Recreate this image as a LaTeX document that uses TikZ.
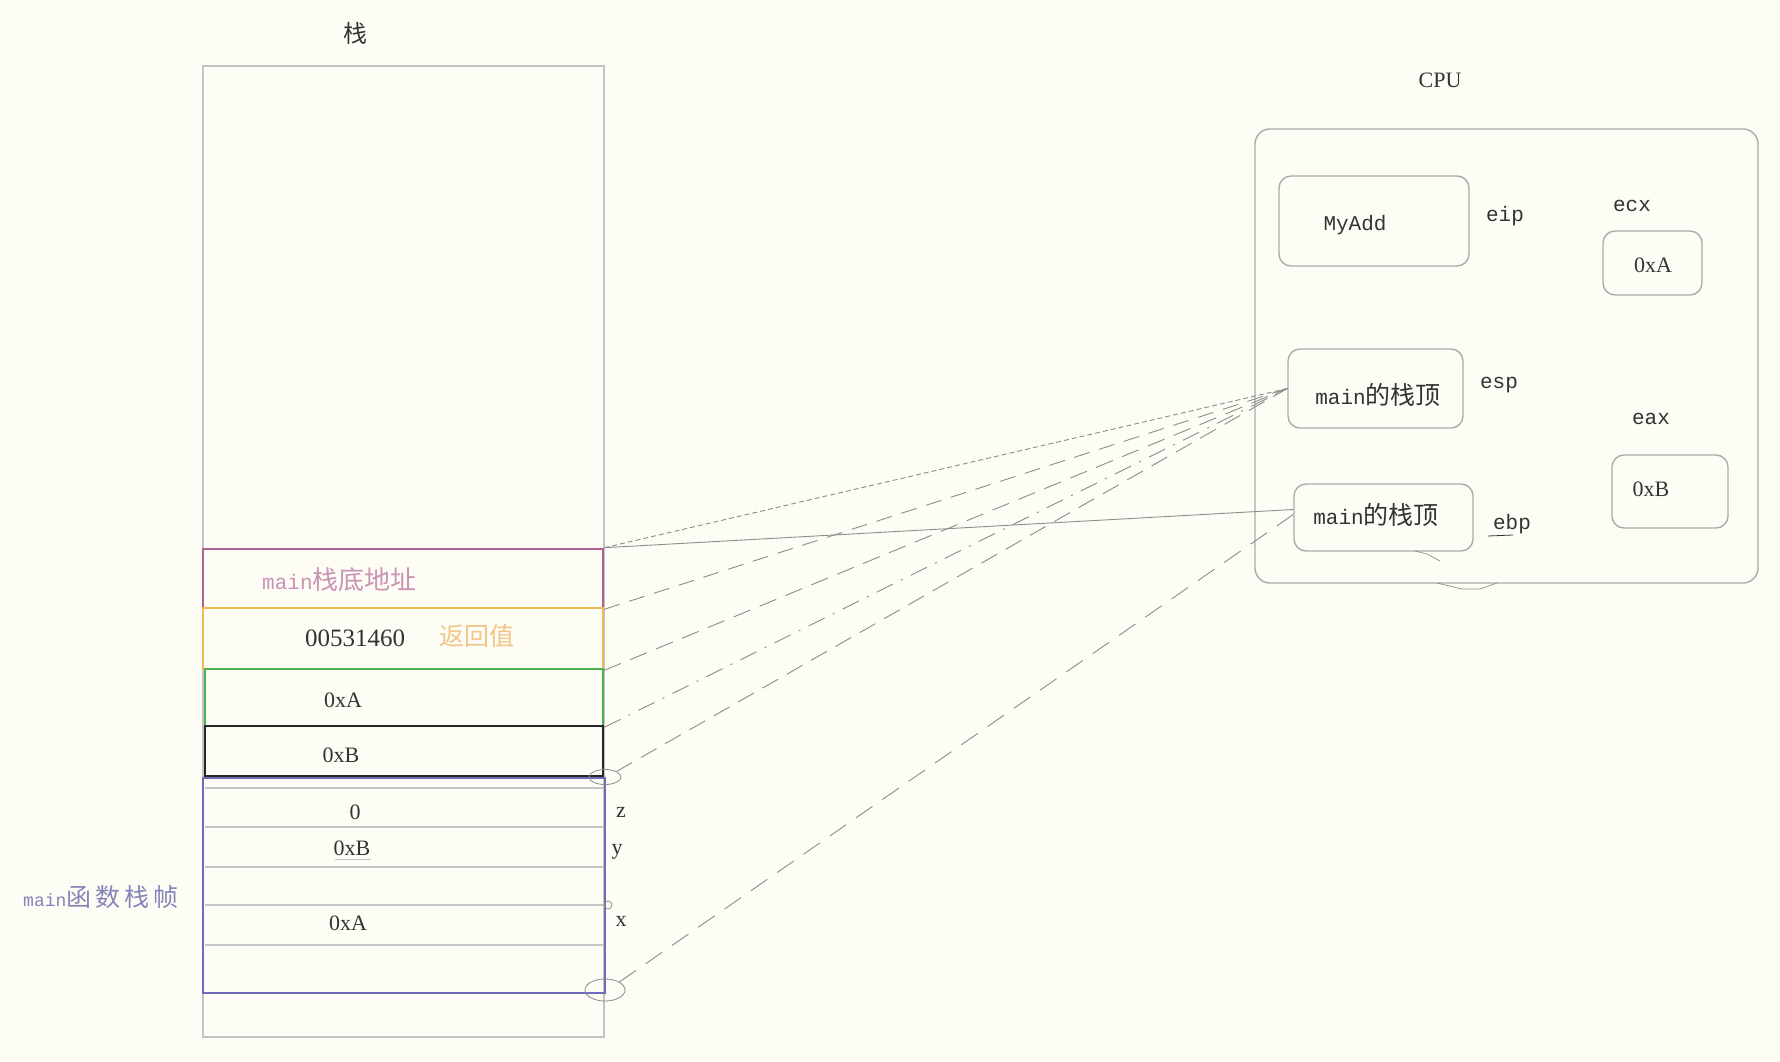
\documentclass[tikz,border=0pt]{standalone}
\usepackage{fontspec}
\setmainfont{Liberation Serif}
\setmonofont{Liberation Mono}
\newfontfamily\cjk{Noto Sans CJK SC}
\usetikzlibrary{calc}
\usetikzlibrary{positioning}
\usetikzlibrary{shapes.geometric}

\definecolor{bgcream}{HTML}{FDFDF6}
\definecolor{inkgray}{HTML}{333333}
\definecolor{framegray}{HTML}{C4C4C4}
\definecolor{boxgray}{HTML}{ABABAB}
\definecolor{linkgray}{HTML}{8C8C8C}
\definecolor{basepink}{HTML}{B3628F}
\definecolor{basetext}{HTML}{C993B5}
\definecolor{retorange}{HTML}{F1B954}
\definecolor{rettext}{HTML}{F2C58A}
\definecolor{arggreen}{HTML}{4DB151}
\definecolor{frameblue}{HTML}{6C6CB8}
\definecolor{frametext}{HTML}{8585BA}

\begin{document}
\begin{tikzpicture}[x=1pt,y=-1pt,
    cell/.style={draw,line width=2.6pt,minimum width=400pt,inner sep=0pt},
    row/.style={draw=framegray,line width=1.2pt},
    reg/.style={draw=boxgray,line width=1.4pt,rounded corners=12pt,inner sep=0pt},
    val/.style={text=inkgray,font=\fontsize{22}{25}\selectfont},
    regname/.style={text=inkgray,font=\ttfamily\fontsize{21}{24}\selectfont},
    link/.style={draw=linkgray,line width=0.9pt},
    ring/.style={draw=linkgray,line width=0.8pt,ellipse,inner sep=0pt}]

    \fill [bgcream] (0,0) rectangle (1780,1062);
    \useasboundingbox (0,0) rectangle (1780,1062);

    \node [text=inkgray,font=\cjk\fontsize{24}{28}\selectfont] (stacktitle) at (355,33) {栈};
    \node [draw=framegray,line width=1.6pt,minimum width=401pt,minimum height=971pt,inner sep=0pt] (stack) at (403.5,551.5) {};

    \node [cell,draw=basepink,minimum height=59pt] (base) at (403,578.5) {};
    \node [cell,draw=retorange,minimum height=61pt] (ret) at (403,638.5) {};
    \node [cell,draw=arggreen,minimum width=398pt,minimum height=57pt] (arga) at (404,697.5) {};
    \node [cell,draw=black!85,minimum width=398pt,minimum height=50pt] (argb) at (404,751) {};

    \draw [row] (205,788) -- (603,788);
    \draw [row] (205,827) -- (603,827);
    \draw [row] (205,867) -- (603,867);
    \draw [row] (205,905) -- (603,905);
    \draw [row] (205,945) -- (603,945);
    \node [cell,draw=frameblue,minimum width=402pt,minimum height=215pt] (frame) at (404,885.5) {};

    \node [anchor=west,text=basetext,inner sep=0pt] (basetxt) at (262,580)
        {\ttfamily\fontsize{21}{24}\selectfont main\cjk\fontsize{26}{28}\selectfont 栈底地址};
    \node [val,font=\fontsize{25}{28}\selectfont] (retval) at (355,638) {00531460};
    \node [text=rettext,font=\cjk\fontsize{25}{28}\selectfont] (rettxt) at (477,636) {返回值};
    \node [val] (avalue) at (343,700) {0xA};
    \node [val] (bvalue) at (341,755) {0xB};
    \node [val] (zvalue) at (355,812) {0};
    \node [val] (yvalue) at (352,848) {0xB};
    \draw [draw=framegray,line width=1pt] (335,859) -- (371,859);
    \node [val] (xvalue) at (348,923) {0xA};
    \node [val] (zname) at (621,812) {z};
    \node [val] (yname) at (617,852) {y};
    \node [val] (xname) at (621,921) {x};
    \node [anchor=west,text=frametext,inner sep=0pt] (frametxt) at (23,897)
        {\ttfamily\fontsize{18}{20}\selectfont main\cjk\fontsize{25}{28}\selectfont 函\,数\,栈\,帧};

    \node [ring,minimum width=32pt,minimum height=15pt] (ringb) at (605,777) {};
    \node [ring,minimum width=40pt,minimum height=22pt] (ringf) at (605,990) {};
    \node [ring,minimum width=8pt,minimum height=8pt] (ringx) at (608,905) {};

    \node [val,font=\fontsize{22}{26}\selectfont] (cputitle) at (1440,80) {CPU};
    \node [reg,rounded corners=15pt,minimum width=503pt,minimum height=454pt] (cpu) at (1506.5,356) {};

    \node [reg,minimum width=190pt,minimum height=90pt] (eipbox) at (1374,221) {};
    \node [regname] (eiptxt) at (1355,225) {MyAdd};
    \node [regname] (eip) at (1505,216) {eip};

    \node [regname] (ecx) at (1632,206) {ecx};
    \node [reg,minimum width=99pt,minimum height=64pt] (ecxbox) at (1652.5,263) {};
    \node [val] (ecxtxt) at (1653,265) {0xA};

    \node [reg,minimum width=175pt,minimum height=79pt] (esp) at (1375.5,388.5) {};
    \node [inner sep=0pt,text=inkgray] (esptxt) at (1378,395)
        {\ttfamily\fontsize{21}{24}\selectfont main\cjk\fontsize{25}{28}\selectfont 的栈顶};
    \node [regname] (espname) at (1499,385) {esp};

    \node [regname] (eax) at (1651,419) {eax};
    \node [reg,minimum width=116pt,minimum height=73pt] (eaxbox) at (1670,491.5) {};
    \node [val] (eaxtxt) at (1651,489) {0xB};

    \node [reg,minimum width=179pt,minimum height=67pt] (ebp) at (1383.5,517.5) {};
    \node [inner sep=0pt,text=inkgray] (ebptxt) at (1376,515)
        {\ttfamily\fontsize{21}{24}\selectfont main\cjk\fontsize{25}{28}\selectfont 的栈顶};
    \node [regname] (ebpname) at (1512,524) {ebp};
    \draw [draw=inkgray,line width=0.8pt] (1488,536) -- (1513,535);

    \draw [link,dash pattern=on 5pt off 3pt] (base.north east) -- (esp.west);
    \draw [link] (base.north east) -- ([yshift=8pt]ebp.west);
    \draw [link,dash pattern=on 16pt off 10pt] (base.south east) -- (esp.west);
    \draw [link,dash pattern=on 18pt off 10pt] (ret.south east) -- (esp.west);
    \draw [link,dash pattern=on 18pt off 9pt on 2pt off 9pt] (arga.south east) -- (esp.west);
    \draw [link,dash pattern=on 18pt off 10pt] (ringb.north east) -- (esp.west);
    \draw [link,dash pattern=on 20pt off 12pt] (ringf.north east) -- ([yshift=3pt]ebp.west);

    \draw [link,line width=0.7pt] (1415,551) -- (1427,554) -- (1440,561);
    \draw [link,line width=0.7pt] (1437,583) -- (1462,589) -- (1480,589) -- (1497,583);

\end{tikzpicture}
\end{document}
